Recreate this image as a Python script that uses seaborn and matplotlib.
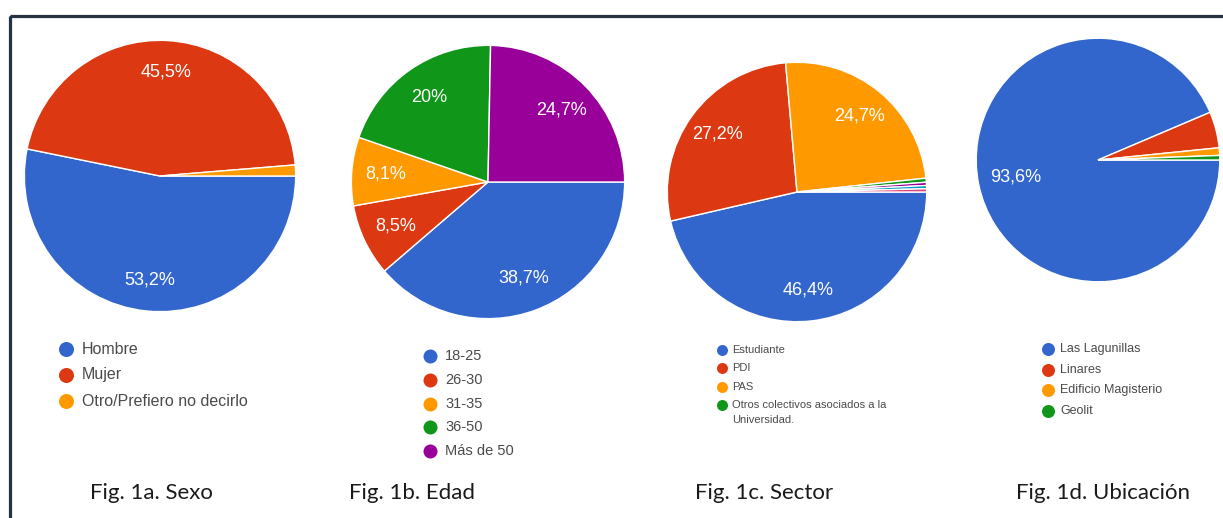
import matplotlib
matplotlib.use("Agg")
import matplotlib.pyplot as plt
from matplotlib.patches import Rectangle
import seaborn as sns

# values (percent)
sexo_labels = ["Hombre", "Mujer", "Otro/Prefiero no decirlo"]
sexo_values = [53.2, 45.5, 1.3]

edad_labels = ["18-25", "26-30", "31-35", "36-50", "Más de 50"]
edad_values = [38.7, 8.5, 8.1, 20.0, 24.7]

sector_labels = ["Estudiante", "PDI", "PAS", "Otros colectivos asociados a la\nUniversidad."]
sector_values = [46.4, 27.2, 24.7, 0.5]
# thin "other" answers that have no legend entry
sector_extra = [0.4, 0.4, 0.4]

ubic_labels = ["Las Lagunillas", "Linares", "Edificio Magisterio", "Geolit"]
ubic_values = [93.6, 4.8, 1.0, 0.6]

captions = ["Fig. 1a. Sexo", "Fig. 1b. Edad", "Fig. 1c. Sector", "Fig. 1d. Ubicación"]

sns.set_theme(style="white")
plt.rcParams["font.family"] = ["Liberation Sans", "DejaVu Sans"]

# google charts default colours
palette = sns.color_palette(["#3366cc", "#dc3912", "#ff9900", "#109618",
                             "#990099", "#0099c6", "#dd4477"])

W, H = 1223, 518
fig = plt.figure(figsize=(W / 100, H / 100), dpi=100)

# overlay in pixel coords for frame, legends and captions
over = fig.add_axes([0, 0, 1, 1])
over.set_xlim(0, W)
over.set_ylim(H, 0)
over.axis("off")
over.patch.set_alpha(0)
over.add_patch(Rectangle((9.5, 15.5), W + 50, H + 50, fill=False,
                         edgecolor="#243241", linewidth=2.3))


def pct_label(p):
    if p < 5:
        return ""
    s = f"{p:.1f}"
    if s.endswith(".0"):
        s = s[:-2]
    return s.replace(".", ",") + "%"


# (values, legend labels, centre px, radius px, pctdistance,
#  legend marker x, first row y, row step, font size, marker diameter, text gap)
charts = [
    (sexo_values, sexo_labels, (160, 176), 137, 0.77, 66, 349, 26, 11.5, 15, 16),
    (edad_values, edad_labels, (488, 182), 138, 0.75, 430, 356, 23.8, 10.5, 14, 15),
    (sector_values + sector_extra, sector_labels, (797, 192), 131, 0.76, 722, 350, 18.3, 8, 11, 10),
    (ubic_values, ubic_labels, (1098, 160), 123, 0.69, 1048, 349, 20.7, 9, 13, 12),
]
caption_x = [151, 412, 764, 1103]

for (vals, labels, (cx, cy), r, pdist, lx, ly, step, fs, md, gap) in charts:
    ax = fig.add_axes([(cx - r) / W, (H - cy - r) / H, 2 * r / W, 2 * r / H])
    ax.pie(vals, colors=palette[:len(vals)], startangle=0, counterclock=False,
           autopct=pct_label, pctdistance=pdist,
           wedgeprops=dict(edgecolor="white", linewidth=1),
           textprops=dict(color="white", fontsize=13))
    ax.set_xlim(-1.01, 1.01)
    ax.set_ylim(-1.01, 1.01)

    # legend, one dot + label per named slice
    for i, lab in enumerate(labels):
        y = ly + i * step
        over.scatter([lx], [y], s=(md * 0.72) ** 2, color=palette[i], linewidths=0)
        for j, line in enumerate(lab.split("\n")):
            over.text(lx + gap, y + j * step * 0.82, line, fontsize=fs,
                      color="#4a4a4a", va="center", ha="left")

for x, cap in zip(caption_x, captions):
    over.text(x, 493, cap, fontsize=16, family=["Lato", "DejaVu Sans"],
              color="#1a1a1a", ha="center", va="center")

fig.savefig("out.png", dpi=100)
